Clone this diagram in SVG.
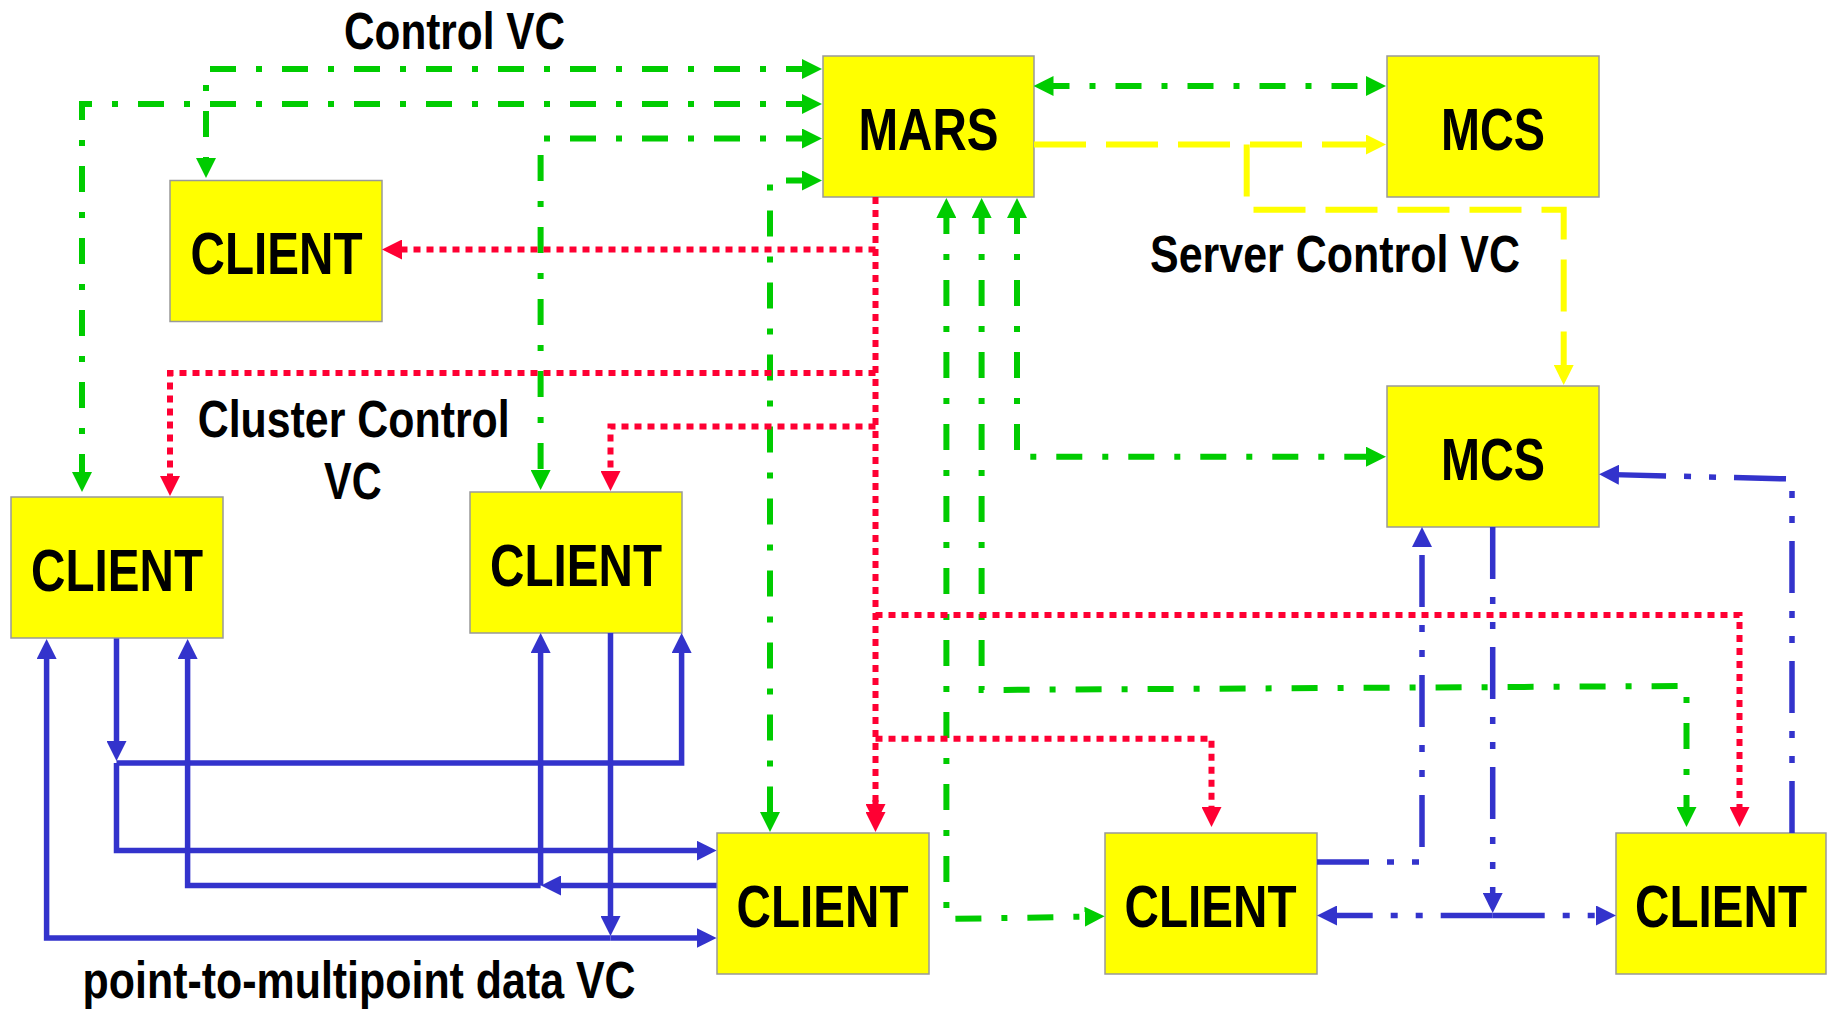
<svg xmlns="http://www.w3.org/2000/svg" width="1827" height="1011" viewBox="0 0 1827 1011">
<style>
.box{fill:#FFFF00;stroke:#999999;stroke-width:1.5}
.bl{font-family:"Liberation Sans",Arial,sans-serif;font-weight:bold;font-size:60px;fill:#000;text-anchor:middle}
.lb{font-family:"Liberation Sans",Arial,sans-serif;font-weight:bold;font-size:52px;fill:#000}
.g{fill:none;stroke:#00CC00;stroke-width:6;stroke-dasharray:26 20 6 20}
.r{fill:none;stroke:#FF0033;stroke-width:6;stroke-dasharray:7 6}
.y{fill:none;stroke:#FFFF00;stroke-width:6;stroke-dasharray:52 20}
.b{fill:none;stroke:#3333CC;stroke-width:5.5}
.bd{fill:none;stroke:#3333CC;stroke-width:5.5;stroke-dasharray:52 18 7 18 7 18}
</style>
<defs>
<marker id="ag" markerUnits="userSpaceOnUse" viewBox="0 0 20 20" markerWidth="20" markerHeight="20" refX="10" refY="10" orient="auto-start-reverse"><path d="M0,0 L20,10 L0,20 z" fill="#00CC00"/></marker>
<marker id="ar" markerUnits="userSpaceOnUse" viewBox="0 0 20 20" markerWidth="20" markerHeight="20" refX="10" refY="10" orient="auto-start-reverse"><path d="M0,0 L20,10 L0,20 z" fill="#FF0033"/></marker>
<marker id="ay" markerUnits="userSpaceOnUse" viewBox="0 0 20 20" markerWidth="20" markerHeight="20" refX="10" refY="10" orient="auto-start-reverse"><path d="M0,0 L20,10 L0,20 z" fill="#FFFF00"/></marker>
<marker id="ab" markerUnits="userSpaceOnUse" viewBox="0 0 20 20" markerWidth="20" markerHeight="20" refX="10" refY="10" orient="auto-start-reverse"><path d="M0,0 L20,10 L0,20 z" fill="#3333CC"/></marker>
</defs>

<g id="mars"><rect class="box" x="823" y="56" width="211" height="141"/><text class="bl" transform="translate(928.5,150) scale(0.793,1)">MARS</text></g>
<g id="mcs1"><rect class="box" x="1387" y="56" width="212" height="141"/><text class="bl" transform="translate(1493,150) scale(0.78,1)">MCS</text></g>
<g id="mcs2"><rect class="box" x="1387" y="386" width="212" height="141"/><text class="bl" transform="translate(1493,480) scale(0.78,1)">MCS</text></g>
<g id="client-top"><rect class="box" x="170" y="180.5" width="212" height="141"/><text class="bl" transform="translate(276.5,273.5) scale(0.794,1)">CLIENT</text></g>
<g id="client-left"><rect class="box" x="11" y="497" width="212" height="141"/><text class="bl" transform="translate(117,591) scale(0.794,1)">CLIENT</text></g>
<g id="client-midleft"><rect class="box" x="470" y="492" width="212" height="141"/><text class="bl" transform="translate(576,586) scale(0.794,1)">CLIENT</text></g>
<g id="client-b1"><rect class="box" x="717" y="833" width="212" height="141"/><text class="bl" transform="translate(822.6,927) scale(0.794,1)">CLIENT</text></g>
<g id="client-b2"><rect class="box" x="1105" y="833" width="212" height="141"/><text class="bl" transform="translate(1210.6,927) scale(0.794,1)">CLIENT</text></g>
<g id="client-b3"><rect class="box" x="1616" y="833" width="210" height="141"/><text class="bl" transform="translate(1721,927) scale(0.794,1)">CLIENT</text></g>

<g id="connectors">
<path class="g" d="M812,69 H206 V168" marker-start="url(#ag)" marker-end="url(#ag)"/>
<path class="g" d="M812,104 H82 V482" marker-start="url(#ag)" marker-end="url(#ag)"/>
<path class="g" d="M812,138.5 H540.6 V480" marker-start="url(#ag)" marker-end="url(#ag)"/>
<path class="g" d="M812,180.5 H770 V822" marker-start="url(#ag)" marker-end="url(#ag)"/>
<path class="g" d="M946.4,208 V919 L1094.6,916.5" marker-start="url(#ag)" marker-end="url(#ag)"/>
<path class="g" d="M981.6,208 V690 L1686.5,686 V817" marker-start="url(#ag)" marker-end="url(#ag)"/>
<path class="g" d="M1017,208 V456.7 H1376" marker-start="url(#ag)" marker-end="url(#ag)"/>
<path class="g" d="M1043.5,86 H1376" marker-start="url(#ag)" marker-end="url(#ag)"/>
<path class="y" d="M1034,144.5 H1376" marker-end="url(#ay)"/>
<path class="y" d="M1246.7,144.5 V209.7 H1563.7 V375" marker-end="url(#ay)"/>
<path class="r" d="M875.5,197 V822" marker-end="url(#ar)"/>
<path class="r" d="M875.5,800 V814" marker-end="url(#ar)"/>
<path class="r" d="M875.5,249.5 H392" marker-end="url(#ar)"/>
<path class="r" d="M875.5,373 H170 V486" marker-end="url(#ar)"/>
<path class="r" d="M875.5,426.5 H610.5 V481" marker-end="url(#ar)"/>
<path class="r" d="M875.5,615 H1739.5 V817" marker-end="url(#ar)"/>
<path class="r" d="M875.5,738.7 H1211.5 V817" marker-end="url(#ar)"/>
<path class="b" d="M116.5,638.5 V751" marker-end="url(#ab)"/>
<path class="b" d="M116.5,763 H681.6 V643" marker-end="url(#ab)"/>
<path class="b" d="M116.5,763 V850.6 H706.6" marker-end="url(#ab)"/>
<path class="b" d="M716.6,885.5 H551" marker-end="url(#ab)"/>
<path class="b" d="M540.6,885.5 H187.6 V649" marker-end="url(#ab)"/>
<path class="b" d="M540.6,885.5 V643" marker-end="url(#ab)"/>
<path class="b" d="M610.5,633 V926" marker-end="url(#ab)"/>
<path class="b" d="M610.5,938 H46.6 V649" marker-end="url(#ab)"/>
<path class="b" d="M610.5,938 H706.6" marker-end="url(#ab)"/>
<path class="bd" d="M1492.7,527 V903" marker-end="url(#ab)"/>
<path class="bd" d="M1492.7,915.5 H1327" marker-end="url(#ab)"/>
<path class="bd" d="M1492.7,915.5 H1606" marker-end="url(#ab)"/>
<path class="bd" d="M1317,862 H1422 V537" marker-end="url(#ab)"/>
<path class="bd" d="M1792,833 V479 L1609,474.5" marker-end="url(#ab)"/>
</g>

<g id="labels">
<text class="lb" x="344" y="48.5" textLength="221" lengthAdjust="spacingAndGlyphs">Control VC</text>
<text class="lb" x="1150" y="272" textLength="370" lengthAdjust="spacingAndGlyphs">Server Control VC</text>
<text class="lb" x="197.7" y="436.7" textLength="312" lengthAdjust="spacingAndGlyphs">Cluster Control</text>
<text class="lb" x="324" y="499" textLength="57.6" lengthAdjust="spacingAndGlyphs">VC</text>
<text class="lb" x="82.6" y="998" textLength="553" lengthAdjust="spacingAndGlyphs">point-to-multipoint data VC</text>
</g>
</svg>
